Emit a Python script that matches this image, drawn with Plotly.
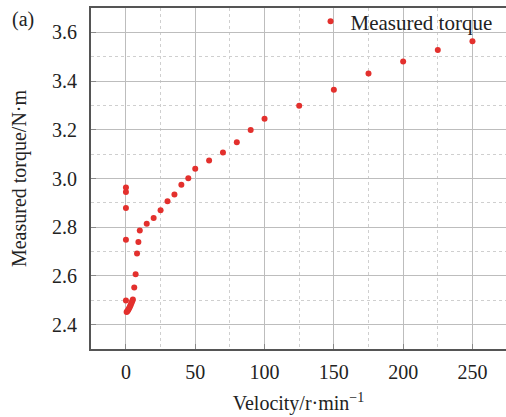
import plotly.graph_objects as go

# Data
velocity = [0, 0, 0, 0, 0,
            0.5, 1, 1.5, 2, 2.5, 3, 3.5, 4, 4.5, 5,
            6, 7, 8, 9, 10, 15, 20, 25, 30, 35, 40, 45, 50,
            60, 70, 80, 90, 100, 125, 150, 175, 200, 225, 250]
torque = [2.963, 2.945, 2.879, 2.749, 2.499,
          2.452, 2.455, 2.459, 2.464, 2.469, 2.475, 2.482, 2.489, 2.496, 2.503,
          2.553, 2.607, 2.692, 2.739, 2.786, 2.814, 2.838, 2.870, 2.907, 2.934, 2.974, 3.001, 3.040,
          3.074, 3.107, 3.149, 3.199, 3.245, 3.299, 3.364, 3.431, 3.480, 3.528, 3.564]

x_ticks = [0, 50, 100, 150, 200, 250]
y_ticks = [2.4, 2.6, 2.8, 3.0, 3.2, 3.4, 3.6]

FONT = "Liberation Serif, Times New Roman, serif"
RED = "#e3302d"

fig = go.Figure()
fig.add_trace(go.Scatter(
    x=velocity, y=torque, mode="markers", name="Measured torque",
    marker=dict(color=RED, size=6, line=dict(width=0)),
))

axis_common = dict(
    showline=True, linecolor="#555555", linewidth=2,
    ticks="inside", ticklen=5, tickcolor="#888888", tickwidth=1,
    showgrid=True, gridcolor="#bdbdbd", gridwidth=1,
    zeroline=False, automargin=False,
    tickfont=dict(family=FONT, size=20, color="#222222"),
)

fig.update_layout(
    width=506, height=417,
    margin=dict(l=91, r=0, t=8, b=68, autoexpand=False),
    paper_bgcolor="white", plot_bgcolor="white",
    font=dict(family=FONT, size=20, color="#222222"),
    showlegend=True,
    legend=dict(
        x=0.529, y=1.020, xanchor="left", yanchor="top",
        bgcolor="rgba(255,255,255,0)", borderwidth=0,
        font=dict(family=FONT, size=21, color="#222222"),
        itemwidth=30, tracegroupgap=0,
    ),
    xaxis=dict(
        range=[-25.2, 274.2], tickvals=x_ticks, mirror=True,
        minor=dict(dtick=25, tick0=0, showgrid=True, griddash="dot",
                   gridcolor="#cfcfcf", gridwidth=1, ticks=""),
        title=dict(text="Velocity/r·min<sup>−1</sup>", standoff=14,
                   font=dict(family=FONT, size=20, color="#222222")),
        ticklabelstandoff=4,
        **axis_common,
    ),
    yaxis=dict(
        range=[2.3, 3.7], tickvals=y_ticks, tickformat=".1f", mirror=False,
        minor=dict(dtick=0.1, tick0=2.3, showgrid=True, griddash="dot",
                   gridcolor="#cfcfcf", gridwidth=1, ticks=""),
        title=dict(text="Measured torque/N·m", standoff=20,
                   font=dict(family=FONT, size=20, color="#222222")),
        ticklabelstandoff=8,
        **axis_common,
    ),
    shapes=[dict(
        type="rect", xref="paper", yref="paper",
        x0=0.588, x1=1.0, y0=0.934, y1=0.996,
        fillcolor="white", line=dict(width=0), layer="between",
    )],
    annotations=[dict(
        text="(a)", xref="paper", yref="paper", x=-0.164, y=0.965,
        xanchor="center", yanchor="middle", showarrow=False,
        font=dict(family=FONT, size=20, color="#222222"),
    )],
)

fig.write_html("out.html", config={"displayModeBar": False},
               post_script="document.body.style.margin='0';")
